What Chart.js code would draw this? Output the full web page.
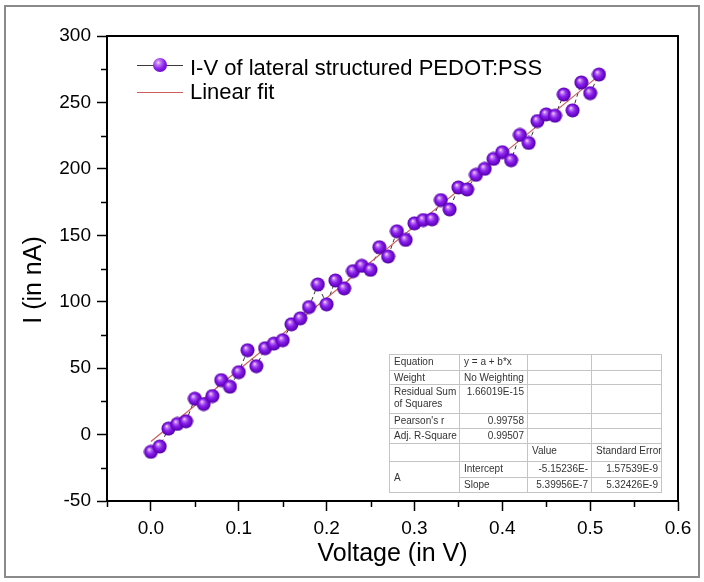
<!DOCTYPE html>
<html>
<head>
<meta charset="utf-8">
<script src="https://cdn.jsdelivr.net/npm/chart.js@4.4.1/dist/chart.umd.min.js"></script>
<style>
html,body{margin:0;padding:0;background:#fff;}
#wrap{position:relative;width:704px;height:582px;overflow:hidden;background:#fff;}
#frame{position:absolute;left:4px;top:5px;width:696px;height:573px;border:2px solid #8a8a8a;box-sizing:border-box;pointer-events:none;}
#c{position:absolute;left:0;top:0;}
.lg{position:absolute;font-family:"Liberation Sans",Arial,sans-serif;font-size:22px;line-height:22px;color:#000;white-space:nowrap;}
.ln{position:absolute;height:1px;}
.sph{position:absolute;width:13px;height:13px;border-radius:50%;
 background:radial-gradient(circle at 38% 33%, #f3dcff 0%, #c27af5 18%, #8a22ea 48%, #6a08cc 78%, #4c0096 100%);}
#ytitle{position:absolute;left:32px;top:280px;transform:translate(-50%,-50%) rotate(-90deg);
 font-family:"Liberation Sans",Arial,sans-serif;font-size:25px;line-height:30px;color:#000;white-space:nowrap;}
#fit{position:absolute;left:389px;top:354px;width:272px;border-collapse:collapse;table-layout:fixed;background:#fff;
 font-family:"Liberation Sans",Arial,sans-serif;font-size:10px;line-height:12px;color:#333;}
#fit td{border:1px solid #c4c4c4;padding:1px 3px 0 4px;vertical-align:top;white-space:nowrap;overflow:hidden;}
#fit td.r{text-align:right;}
#fit td.m{vertical-align:middle;}
</style>
</head>
<body>
<div id="wrap">
<canvas id="c" width="704" height="582"></canvas>
<div id="frame"></div>

<div id="ytitle">I (in nA)</div>

<div class="ln" style="left:137px;top:65px;width:46px;background:#3a3a3a;"></div>
<div class="sph" style="left:153px;top:58px;width:14px;height:14px;"></div>
<div class="lg" style="left:190px;top:57px;">I-V of lateral structured PEDOT:PSS</div>
<div class="ln" style="left:137px;top:92px;width:46px;background:#cd5c5c;"></div>
<div class="lg" style="left:190px;top:81px;">Linear fit</div>

<table id="fit">
<colgroup><col style="width:70px"><col style="width:68px"><col style="width:64px"><col style="width:70px"></colgroup>
<tr style="height:16px"><td>Equation</td><td>y = a + b*x</td><td></td><td></td></tr>
<tr style="height:14px"><td>Weight</td><td>No Weighting</td><td></td><td></td></tr>
<tr style="height:29px"><td>Residual Sum<br>of Squares</td><td class="r">1.66019E-15</td><td></td><td></td></tr>
<tr style="height:15px"><td>Pearson's r</td><td class="r">0.99758</td><td></td><td></td></tr>
<tr style="height:15px"><td>Adj. R-Square</td><td class="r">0.99507</td><td></td><td></td></tr>
<tr style="height:18px"><td></td><td></td><td>Value</td><td>Standard Error</td></tr>
<tr style="height:16px"><td rowspan="2" class="m">A</td><td>Intercept</td><td class="r">-5.15236E-</td><td class="r">1.57539E-9</td></tr>
<tr style="height:15px"><td>Slope</td><td class="r">5.39956E-7</td><td class="r">5.32426E-9</td></tr>
</table>
</div>

<script>
// ---- data ----
const voltage = [0.00,0.01,0.02,0.03,0.04,0.05,0.06,0.07,0.08,0.09,
                 0.10,0.11,0.12,0.13,0.14,0.15,0.16,0.17,0.18,0.19,
                 0.20,0.21,0.22,0.23,0.24,0.25,0.26,0.27,0.28,0.29,
                 0.30,0.31,0.32,0.33,0.34,0.35,0.36,0.37,0.38,0.39,
                 0.40,0.41,0.42,0.43,0.44,0.45,0.46,0.47,0.48,0.49,
                 0.50,0.51];
const current = [-13,-9,4.5,8,10,27,23,29,41,36,
                 47,63.5,51.5,65,68.5,71,83,87.5,96,113,
                 98,116,110,123,127,124,141,134,153,146.5,
                 159,161.5,162,176.5,169.5,186,184.5,195.5,200,207.5,
                 212.5,206.5,225.5,219.5,236,241,240,256,244,265,
                 257,271];
const fitVoltage = [0.0, 0.51];
const fitCurrent = [-5.2, 270.2];
const xMajorTicks = [0.0,0.1,0.2,0.3,0.4,0.5,0.6];
const xMinorTicks = [-0.05,0.05,0.15,0.25,0.35,0.45,0.55];
const yMajorTicks = [-50,0,50,100,150,200,250,300];
const yMinorTicks = [-25,25,75,125,175,225,275];

const FONT = "'Liberation Sans', Arial, sans-serif";

// sphere marker
function sphere(){
  const c = document.createElement('canvas');
  c.width = 15; c.height = 15;
  const g = c.getContext('2d');
  const grad = g.createRadialGradient(5.6,5.0,0.3, 7.5,7.5,7.2);
  grad.addColorStop(0,'#f3dcff');
  grad.addColorStop(0.18,'#c27af5');
  grad.addColorStop(0.48,'#8a22ea');
  grad.addColorStop(0.78,'#6a08cc');
  grad.addColorStop(1,'#4c0096');
  g.fillStyle = grad;
  g.beginPath(); g.arc(7.5,7.5,7,0,Math.PI*2); g.fill();
  return c;
}
const ball = sphere();

const pts = voltage.map((v,i)=>({x:v,y:current[i]}));
const fitPts = fitVoltage.map((v,i)=>({x:v,y:fitCurrent[i]}));

const decor = {
  id:'decor',
  beforeDatasetsDraw(chart){
    const {ctx, chartArea:a, scales:{x,y}} = chart;
    ctx.save();
    ctx.strokeStyle = '#000';
    ctx.lineWidth = 2;
    ctx.strokeRect(a.left, a.top, a.right-a.left, a.bottom-a.top);
    ctx.lineWidth = 1.5;
    for (const v of xMinorTicks){
      const p = Math.round(x.getPixelForValue(v))+0.5;
      ctx.beginPath(); ctx.moveTo(p, a.bottom); ctx.lineTo(p, a.bottom+6); ctx.stroke();
    }
    for (const v of yMinorTicks){
      const p = Math.round(y.getPixelForValue(v))+0.5;
      ctx.beginPath(); ctx.moveTo(a.left, p); ctx.lineTo(a.left-6, p); ctx.stroke();
    }
    ctx.restore();
  }
};

new Chart(document.getElementById('c'), {
  type:'scatter',
  data:{
    datasets:[
      {label:'I-V of lateral structured PEDOT:PSS', data:pts, showLine:true, borderColor:'#333', borderWidth:1,
       borderDash:[4,3], pointRadius:0, order:3},
      {label:'Linear fit', data:fitPts, showLine:true, borderColor:'#cd5c5c', borderWidth:1.2, pointRadius:0, order:2},
      {label:'points', data:pts, showLine:false, pointStyle:ball, pointRadius:7, order:1}
    ]
  },
  options:{
    responsive:false,
    animation:false,
    devicePixelRatio:1,
    layout:{padding:{top:36,right:26,left:0,bottom:0}},
    plugins:{legend:{display:false}, tooltip:{enabled:false}},
    scales:{
      x:{
        type:'linear', min:-0.05, max:0.6,
        afterFit(s){ s.height = 81; },
        afterBuildTicks(s){ s.ticks = xMajorTicks.map(v=>({value:v})); },
        ticks:{color:'#000', font:{family:FONT,size:19}, padding:6, callback:v=>v.toFixed(1), maxRotation:0},
        grid:{drawOnChartArea:false, drawTicks:true, tickLength:10, tickColor:'#000', tickWidth:1.5},
        border:{display:true, color:'#000', width:2},
        title:{display:true, text:'Voltage (in V)', color:'#000', font:{family:FONT,size:25}, padding:{top:0,bottom:13}}
      },
      y:{
        type:'linear', min:-50, max:300,
        afterFit(s){ s.width = 107; },
        afterBuildTicks(s){ s.ticks = yMajorTicks.map(v=>({value:v})); },
        ticks:{color:'#000', font:{family:FONT,size:19}, padding:6},
        grid:{drawOnChartArea:false, drawTicks:true, tickLength:10, tickColor:'#000', tickWidth:1.5},
        border:{display:true, color:'#000', width:2},
        title:{display:false, text:'I (in nA)'}
      }
    }
  },
  plugins:[decor]
});
</script>
</body>
</html>
